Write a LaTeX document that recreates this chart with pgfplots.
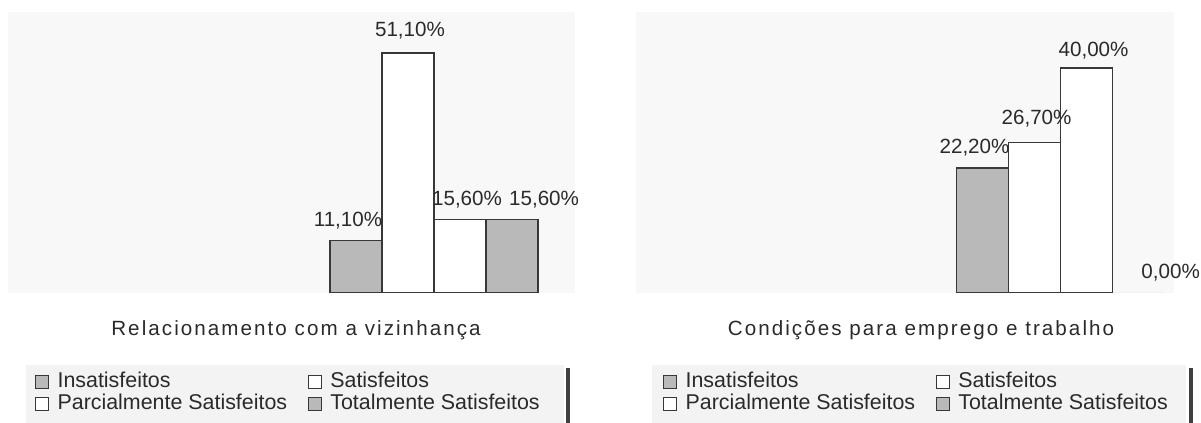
\documentclass[border=0pt]{standalone}
\usepackage{fontspec}
\setmainfont{Liberation Sans}
\newfontfamily\spacedfont[LetterSpace=10]{Liberation Sans}
\usepackage{pgfplots}
\pgfplotsset{compat=1.18}
\definecolor{textc}{HTML}{2A2A2A}
\definecolor{bargray}{HTML}{B9B9B9}
\definecolor{edgec}{HTML}{383838}
\definecolor{bgc}{HTML}{F8F8F8}
\definecolor{legbg}{HTML}{F3F3F3}
\newcommand\mysize{\fontsize{10.3bp}{12bp}\selectfont}
\newcommand\legsize{\fontsize{10.7bp}{12bp}\selectfont}
\pgfplotsset{
  barchart/.style={
    ybar=0pt, bar width=1,
    scale only axis, anchor=south west,
    height=140.35bp,
    ymin=0,
    axis line style={draw=none}, ticks=none,
    axis background/.style={fill=bgc},
    clip=false,
    /pgf/number format/assume math mode=true,
    nodes near coords={\pgfmathprintnumber[fixed,fixed zerofill,precision=2,use comma]{\pgfplotspointmeta}\%},
    every node near coord/.append style={font=\mysize, text=textc, anchor=center, yshift=10bp, inner sep=0pt},
    legend image code/.code={\draw[#1,draw=edgec,line width=0.5bp] (0bp,-3.2bp) rectangle (6.4bp,3.2bp);},
    legend columns=2,
    legend cell align=left,
    legend style={draw=none, fill=none, inner sep=0pt, anchor=north west, font=\legsize, text=textc, row sep=0.5bp,
       nodes={inner sep=0pt, text height=8.2bp, text depth=2.5bp},
       /tikz/every odd column/.style={column sep=4.2bp},
       /tikz/every even column/.style={column sep=10.5bp}},
    every axis plot/.append style={draw=edgec, line width=0.6bp},
  }
}
\begin{document}
\mysize
\begin{tikzpicture}
\useasboundingbox (0,0) rectangle (600.5bp,211.5bp);
\fill[legbg] (13bp,0) rectangle (282bp,29bp);
\fill[legbg] (326bp,0) rectangle (593bp,29bp);
\fill[black!75] (283bp,0) rectangle (285bp,27.5bp);
\fill[black!75] (594.5bp,0) rectangle (596.5bp,27.5bp);

\begin{axis}[barchart, at={(4bp,65.15bp)}, width=283.5bp,
  xmin=-8.19, xmax=2.71, ymax=59.85,
  legend style={at={(0.0476,-0.2772)}}]
\addplot[fill=bargray, every node near coord/.append style={xshift=-4bp}] coordinates {(0,11.1)};
\addplot[fill=white, every node near coord/.append style={xshift=1bp, yshift=1bp}] coordinates {(0,51.1)};
\addplot[fill=white, every node near coord/.append style={xshift=3.5bp}] coordinates {(0,15.6)};
\addplot[fill=bargray, every node near coord/.append style={xshift=16bp}] coordinates {(0,15.6)};
\legend{Insatisfeitos, Satisfeitos, Parcialmente Satisfeitos, Totalmente Satisfeitos}
\end{axis}

\begin{axis}[barchart, at={(318bp,65.15bp)}, width=269bp,
  xmin=-8.16, xmax=2.18, ymax=49.95,
  legend style={at={(0.0502,-0.2772)}}]
\addplot[fill=bargray, every node near coord/.append style={xshift=-4bp}] coordinates {(0,22.2)};
\addplot[fill=white, every node near coord/.append style={xshift=1bp, yshift=2bp}] coordinates {(0,26.7)};
\addplot[fill=white, every node near coord/.append style={xshift=3.5bp, yshift=-1.5bp}] coordinates {(0,40.0)};
\addplot[fill=bargray, draw=none, every node near coord/.append style={xshift=16bp}] coordinates {(0,0.0)};
\legend{Insatisfeitos, Satisfeitos, Parcialmente Satisfeitos, Totalmente Satisfeitos}
\end{axis}

\node[font=\spacedfont\mysize, text=textc] at (148bp,46.5bp) {Relacionamento com a vizinhança};
\node[font=\spacedfont\mysize, text=textc] at (460.5bp,46.5bp) {Condições para emprego e trabalho};
\end{tikzpicture}
\end{document}
